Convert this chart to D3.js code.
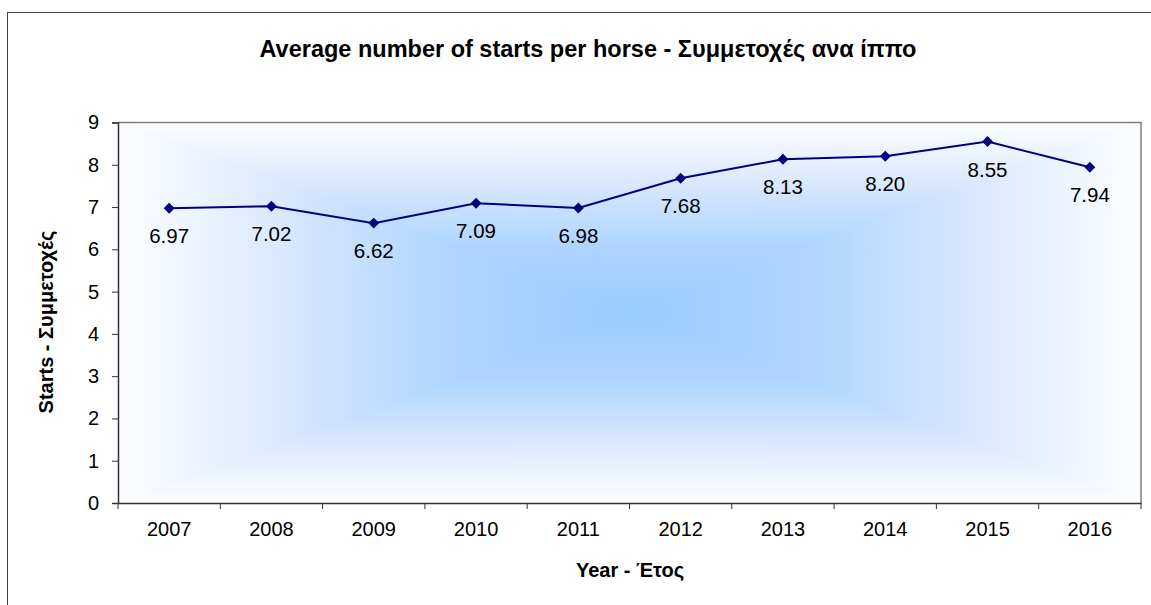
<!DOCTYPE html>
<html>
<head>
<meta charset="utf-8">
<script src="https://cdn.jsdelivr.net/npm/d3@7"></script>
<style>
    body { margin: 0; background: #ffffff; }
    text { font-family: "Liberation Sans", Arial, sans-serif; fill: #000000; }
    .title { font-size: 23.5px; font-weight: bold; }
    .label { font-size: 20px; font-weight: bold; }
    .tick text { font-size: 20px; }
    .value { font-size: 20.5px; }
</style>
</head>
<body>
<svg id="starts_graph"></svg>
<script>
// data
years = ["2007", "2008", "2009", "2010", "2011", "2012", "2013", "2014", "2015", "2016"]
starts = [6.97, 7.02, 6.62, 7.09, 6.98, 7.68, 8.13, 8.20, 8.55, 7.94]
y_ticks = [0, 1, 2, 3, 4, 5, 6, 7, 8, 9]

function createGraph() {

    // plot area inside the 1151x605 frame
    left = 118
    right = 1141
    top_ = 122.5
    bottom = 503

    var svg = d3.select("#starts_graph")
        .attr("width", 1151)
        .attr("height", 605)

    // outer chart border (runs off the right and bottom of the picture)
    svg.append("rect")
        .attr("x", 7.5)
        .attr("y", 12.5)
        .attr("width", 1300)
        .attr("height", 800)
        .attr("fill", "#ffffff")
        .attr("stroke", "#404040")
        .attr("stroke-width", 1)

    const xScale = d3.scaleBand()
        .domain(years)
        .range([left, right])

    const yScale = d3.scaleLinear()
        .domain([0, 9])
        .range([bottom, top_])

    // rectangular "from centre" gradient, built from four triangles
    var cx = (left + right) / 2
    var cy = (top_ + bottom) / 2
    var defs = svg.append("defs")
    var sides = [
        { id: "gTop", pts: [[left, top_], [right, top_]], end: [cx, top_] },
        { id: "gBottom", pts: [[left, bottom], [right, bottom]], end: [cx, bottom] },
        { id: "gLeft", pts: [[left, top_], [left, bottom]], end: [left, cy] },
        { id: "gRight", pts: [[right, top_], [right, bottom]], end: [right, cy] }
    ]
    var stops = [[0, "#99ccff"], [0.35, "#aed5ff"], [0.6, "#cfe3fe"], [0.85, "#edf4ff"], [1, "#fcfdff"]]
    for (const s of sides) {
        var g = defs.append("linearGradient")
            .attr("id", s.id)
            .attr("gradientUnits", "userSpaceOnUse")
            .attr("x1", cx).attr("y1", cy)
            .attr("x2", s.end[0]).attr("y2", s.end[1])
        for (const st of stops) {
            g.append("stop").attr("offset", st[0]).attr("stop-color", st[1])
        }
    }
    for (const s of sides) {
        var pts = [s.pts[0], s.pts[1], [cx, cy]]
        svg.append("polygon")
            .attr("points", pts.map(p => p.join(",")).join(" "))
            .attr("fill", "url(#" + s.id + ")")
            .attr("stroke", "url(#" + s.id + ")")
            .attr("stroke-width", 0.8)
    }

    // plot border: grey top and right
    svg.append("path")
        .attr("d", `M${left},${top_}H${right}V${bottom}`)
        .attr("fill", "none")
        .attr("stroke", "#808080")
        .attr("stroke-width", 1.5)

    // Y axis
    var yAxis = svg.append("g")
        .attr("transform", `translate(${left},0)`)
        .call(d3.axisLeft(yScale).tickValues(y_ticks).tickSize(6).tickPadding(13).tickFormat(d3.format("d")))
    yAxis.select(".domain").attr("stroke", "#333333").attr("stroke-width", 1.5)
    yAxis.selectAll(".tick line").attr("stroke", "#333333")

    // X axis: labels in the bands, ticks on the band edges
    var xAxis = svg.append("g")
        .attr("transform", `translate(0,${bottom})`)
        .call(d3.axisBottom(xScale).tickSize(0).tickPadding(19))
    xAxis.select(".domain").attr("stroke", "#333333").attr("stroke-width", 1.5)
    xAxis.selectAll(".tick text").attr("dy", "0.71em")

    var edges = years.map(d => xScale(d)).concat([right])
    svg.append("g")
        .selectAll("line")
        .data(edges)
        .join("line")
        .attr("x1", d => d).attr("x2", d => d)
        .attr("y1", bottom).attr("y2", bottom + 6)
        .attr("stroke", "#333333")

    // line
    var xc = d => xScale(d) + xScale.bandwidth() / 2
    svg.append("path")
        .datum(years)
        .attr("fill", "none")
        .attr("stroke", "#000080")
        .attr("stroke-width", 2)
        .attr("d", d3.line()
            .x(function(d) { return xc(d) })
            .y(function(d, i) { return yScale(starts[i]) })
        )

    // diamond markers
    svg.append("g")
        .selectAll("path")
        .data(years)
        .join("path")
        .attr("transform", (d, i) => `translate(${xc(d)},${yScale(starts[i])}) rotate(45)`)
        .attr("d", d3.symbol().type(d3.symbolSquare).size(60))
        .attr("fill", "#000080")

    // value labels below the points
    svg.append("g")
        .selectAll("text")
        .data(years)
        .join("text")
        .attr("class", "value")
        .attr("x", d => xc(d))
        .attr("y", (d, i) => yScale(starts[i]) + 35)
        .attr("text-anchor", "middle")
        .text((d, i) => starts[i].toFixed(2))

    loadTitles(svg, "Starts - Συμμετοχές", "Year - Έτος", "Average number of starts per horse - Συμμετοχές ανα ίππο")
}

function loadTitles(svg, titleY, titleX, title) {
    // Title Y
    svg.append("text")
        .attr("class", "label")
        .attr("transform", "translate(53,322) rotate(-90)")
        .attr("text-anchor", "middle")
        .text(titleY)

    // Title X
    svg.append("text")
        .attr("class", "label")
        .attr("x", 630)
        .attr("y", 577)
        .attr("text-anchor", "middle")
        .text(titleX)

    // Title
    svg.append("text")
        .attr("class", "title")
        .attr("x", 588)
        .attr("y", 57)
        .attr("text-anchor", "middle")
        .text(title)
}

createGraph()
</script>
</body>
</html>
